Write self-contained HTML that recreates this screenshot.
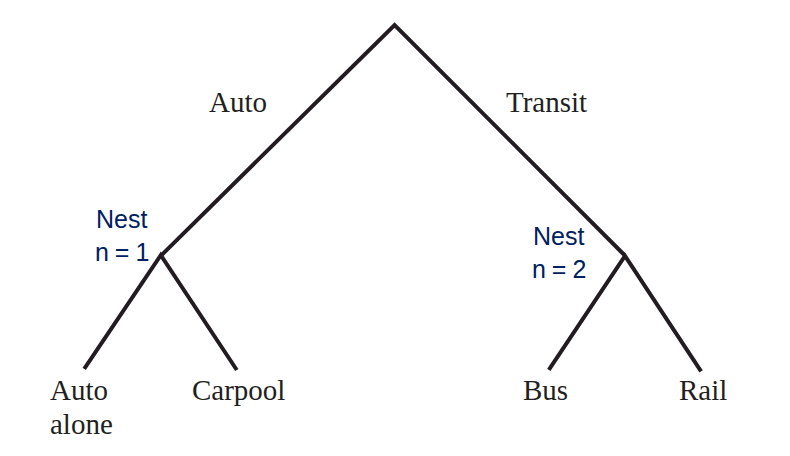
<!DOCTYPE html>
<html><head><meta charset="utf-8">
<style>
html,body{margin:0;padding:0;background:#fff;}
body{width:790px;height:456px;position:relative;overflow:hidden;}
.t{position:absolute;font-family:"Liberation Serif",serif;font-size:29px;color:#231f20;line-height:1;white-space:nowrap;}
.n{position:absolute;font-family:"Liberation Sans",sans-serif;font-size:25px;color:#002060;line-height:1;white-space:nowrap;}
svg{position:absolute;left:0;top:0;}
</style></head><body>
<svg width="790" height="456" viewBox="0 0 790 456">
<defs><filter id="b" x="-5%" y="-5%" width="110%" height="110%"><feGaussianBlur stdDeviation="0.35"/></filter></defs>
<g filter="url(#b)" stroke="#231f20" stroke-width="4" fill="none" stroke-linecap="butt" stroke-linejoin="miter">
<polyline points="161.8,254.8 394.6,25.0 624.4,255.0"/>
<polyline points="84.2,368.8 160.8,255.2 236.8,370"/>
<polyline points="548.8,369.8 625.0,255.8 701.1,371.4"/>
</g>
</svg>
<div class="t" id="auto" style="left:209px;top:88px">Auto</div>
<div class="t" id="transit" style="left:506px;top:88px">Transit</div>
<div class="n" id="nest1" style="left:96px;top:207px">Nest</div>
<div class="n" id="n1" style="left:95px;top:239.5px;word-spacing:-1px">n = 1</div>
<div class="n" id="nest2" style="left:533px;top:224px">Nest</div>
<div class="n" id="n2" style="left:532px;top:257.3px;word-spacing:-1px">n = 2</div>
<div class="t" id="alone" style="left:50px;top:376px">Auto</div>
<div class="t" id="alone2" style="left:50px;top:410px">alone</div>
<div class="t" id="carpool" style="left:192px;top:375.5px">Carpool</div>
<div class="t" id="bus" style="left:523px;top:375.5px">Bus</div>
<div class="t" id="rail" style="left:679px;top:375.5px">Rail</div>
</body></html>
